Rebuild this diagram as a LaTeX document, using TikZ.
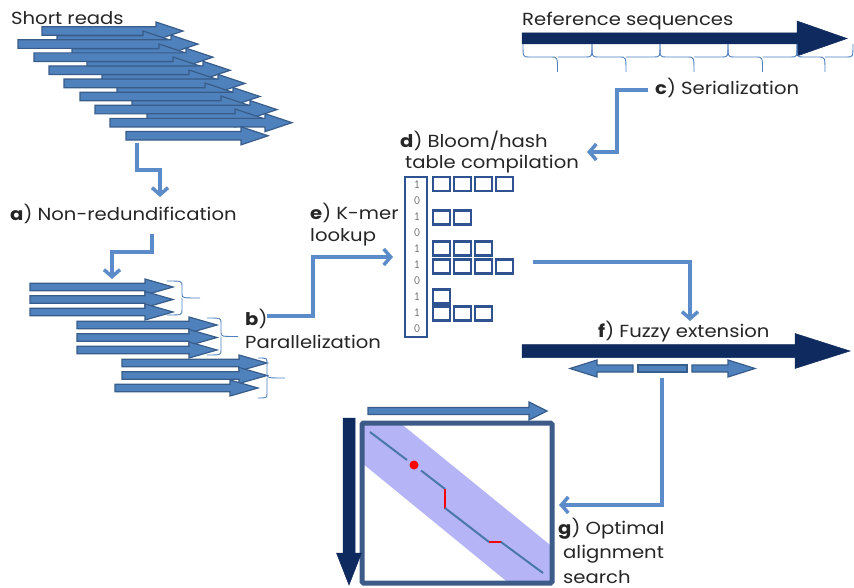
\documentclass[tikz,border=0pt]{standalone}
\usepackage{fontspec}
\setmainfont[FakeStretch=1.12]{Poppins}
\usetikzlibrary{arrows.meta}
\definecolor{mblue}{HTML}{4F81BD}
\definecolor{oblue}{HTML}{385D8A}
\definecolor{navy}{HTML}{0E2A5E}
\definecolor{conn}{HTML}{5B8BC8}
\definecolor{boxc}{HTML}{2F5391}
\definecolor{bandc}{HTML}{B4B4F6}
\definecolor{sqc}{HTML}{3D5B88}
\definecolor{pathc}{HTML}{4A78AD}
\definecolor{bitc}{HTML}{666666}
% horizontal block arrow: [style]{x1}{xtip}{y}{shaft half}{head half}{head length}
\newcommand\harrow[7][]{\filldraw[#1] ({#2},{#4-#5}) -- ({#3-(#7)},{#4-#5}) -- ({#3-(#7)},{#4-#6}) -- ({#3},{#4}) -- ({#3-(#7)},{#4+#6}) -- ({#3-(#7)},{#4+#5}) -- ({#2},{#4+#5}) -- cycle;}
% vertical block arrow: [style]{x}{y1}{ytip}{shaft half}{head half}{head length}
\newcommand\varrow[7][]{\filldraw[#1] ({#2-#5},{#3}) -- ({#2-#5},{#4-(#7)}) -- ({#2-#6},{#4-(#7)}) -- ({#2},{#4}) -- ({#2+#6},{#4-(#7)}) -- ({#2+#5},{#4-(#7)}) -- ({#2+#5},{#3}) -- cycle;}
% brace pointing down: {xa}{xb}{y}{body offset}{tip offset}
\newcommand\hbrace[5]{\draw[bracec] ({#1},{#3}) .. controls ({#1},{#3+#4}) .. ({#1+6},{#3+#4}) -- ({(#1+#2)/2-6},{#3+#4}) .. controls ({(#1+#2)/2},{#3+#4}) .. ({(#1+#2)/2},{#3+#5})
  ({(#1+#2)/2},{#3+#4+0.01}) .. controls ({(#1+#2)/2},{#3+#4}) .. ({(#1+#2)/2+6},{#3+#4}) -- ({#2-6},{#3+#4}) .. controls ({#2},{#3+#4}) .. ({#2},{#3});}
% brace pointing right: {x}{ya}{yb}{body offset}{tip offset}
\newcommand\vbrace[5]{\draw[bracec] ({#1},{#2}) .. controls ({#1+#4},{#2}) .. ({#1+#4},{#2+5}) -- ({#1+#4},{(#2+#3)/2-4}) .. controls ({#1+#4},{(#2+#3)/2}) .. ({#1+#5},{(#2+#3)/2})
  ({#1+#4+0.01},{(#2+#3)/2}) .. controls ({#1+#4},{(#2+#3)/2}) .. ({#1+#4},{(#2+#3)/2+4}) -- ({#1+#4},{#3-5}) .. controls ({#1+#4},{#3}) .. ({#1},{#3});}
\tikzset{
  readarrow/.style={fill=mblue, draw=oblue, line width=1.2pt, line join=miter},
  navyarrow/.style={fill=navy, draw=navy, line width=0.5pt},
  lbl/.style={font=\fontsize{17.5}{22}\selectfont, inner sep=0pt, anchor=base west, align=left, text=black!85},
  conn/.style={draw=conn, line width=3.5pt, line join=miter, -{Straight Barb[length=7pt,width=16pt]}},
  bracec/.style={draw=mblue, line width=0.9pt},
  bitbox/.style={draw=boxc, line width=2.2pt},
  bit/.style={font=\ttfamily\fontsize{12.5}{12.5}\selectfont, text=bitc, inner sep=0pt},
}
\begin{document}
\begin{tikzpicture}[x=1pt, y=-1pt]
\useasboundingbox (0,0) rectangle (854,588);
\fill[white] (0,0) rectangle (854,588);

% ---- short reads ----
\node[lbl] (shortreads) at (11,25) {Short reads};
\harrow[readarrow]{42}{183}{31}{4.3}{9}{27}
\harrow[readarrow]{57}{170}{40}{4.3}{9}{27}
\harrow[readarrow]{18}{198}{44.1}{4.3}{9}{27}
\harrow[readarrow]{72}{186}{53}{4.3}{9}{27}
\harrow[readarrow]{34}{213}{57.2}{4.3}{9}{27}
\harrow[readarrow]{87}{200}{66}{4.3}{9}{27}
\harrow[readarrow]{49}{230}{70.3}{4.3}{9}{27}
\harrow[readarrow]{102}{216}{79}{4.3}{9}{27}
\harrow[readarrow]{64}{245}{83.4}{4.3}{9}{27}
\harrow[readarrow]{117}{232}{92}{4.3}{9}{27}
\harrow[readarrow]{80}{260}{96.5}{4.3}{9}{27}
\harrow[readarrow]{132}{248}{105}{4.3}{9}{27}
\harrow[readarrow]{95}{277}{109.6}{4.3}{9}{27}
\harrow[readarrow]{147}{262}{118}{4.3}{9}{27}
\harrow[readarrow]{110}{292}{122.7}{4.3}{9}{27}
\harrow[readarrow]{126}{268}{135.8}{4.3}{9}{27}

\coordinate (c1a) at (137,143);
\coordinate (c1b) at (160,197);
\draw[conn] (c1a) -- (137,170) -- (160,170) -- (c1b);

% ---- a) ----
\node[lbl] (nonred) at (10,221) {\textbf{a}) Non-redundification};
\coordinate (c2a) at (152,234);
\coordinate (c2b) at (112,279);
\draw[conn] (c2a) -- (152,252) -- (112,252) -- (c2b);

% ---- parallel groups ----
\harrow[readarrow]{30}{173}{287}{3.7}{8}{28}
\harrow[readarrow]{30}{173}{299.5}{3.7}{8}{28}
\harrow[readarrow]{30}{173}{312}{3.7}{8}{28}
\harrow[readarrow]{77}{217}{325}{3.7}{8}{28}
\harrow[readarrow]{77}{217}{337.5}{3.7}{8}{28}
\harrow[readarrow]{77}{217}{350}{3.7}{8}{28}
\harrow[readarrow]{122}{267}{363}{3.7}{8}{28}
\harrow[readarrow]{122}{267}{375.5}{3.7}{8}{28}
\harrow[readarrow]{115}{258}{388}{3.7}{8}{28}
\vbrace{167}{281}{315}{15}{33}
\vbrace{207}{318}{355}{14}{31}
\vbrace{258}{358}{398}{9}{27}

\node[lbl, font=\fontsize{17.5}{23}\selectfont] (par) at (245,348) {\textbf{b})\\Parallelization};
\coordinate (c3a) at (267,316);
\coordinate (c3b) at (393,257);
\draw[conn] (c3a) -- (313,316) -- (313,257) -- (c3b);
\node[lbl, font=\fontsize{17.5}{21}\selectfont] (kmer) at (310,241) {\textbf{e}) K-mer\\lookup};

% ---- reference ----
\node[lbl] (refseq) at (522,26) {Reference sequences};
\harrow[navyarrow]{522}{847}{38.5}{5.5}{17.5}{50}
\foreach \xa/\xb in {523/592, 592/660, 660/728, 728/797, 797/853}{
  \hbrace{\xa}{\xb}{44}{13}{28}
}
\node[lbl] (serial) at (655,95) {\textbf{c}) Serialization};
\coordinate (c4a) at (648,90);
\coordinate (c4b) at (587,152);
\draw[conn] (c4a) -- (617,90) -- (617,152) -- (c4b);

% ---- bloom table ----
\node[lbl, font=\fontsize{17.5}{21.5}\selectfont] (bloom) at (400,169) {\textbf{d}) Bloom/hash\\\hspace{5pt}table compilation};
\draw[bitbox] (405,177) rectangle (427,337);
\foreach \b [count=\i] in {1,0,1,0,1,1,0,1,1,0}{
  \node[bit] (bit\i) at (417,{168.5+16.05*\i}) {\b};
}
\foreach \row/\n in {184/4, 217.5/2, 248.5/3, 266.5/4, 296.5/1, 313.5/3}{
  \foreach \k in {1,...,\n}{
    \draw[bitbox] ({433+21*(\k-1)},{\row-7}) rectangle ++(17,14);
  }
}

\coordinate (c5a) at (533,262);
\coordinate (c5b) at (690,321);
\draw[conn] (c5a) -- (690,262) -- (c5b);

% ---- fuzzy extension ----
\node[lbl] (fuzzy) at (598,337) {\textbf{f}) Fuzzy extension};
\harrow[navyarrow]{522}{850}{351}{6.5}{17.5}{55}
\harrow[readarrow]{633}{570}{368.5}{3.5}{8.5}{-27}
\filldraw[readarrow] (638,365) rectangle (687,372);
\harrow[readarrow]{692}{755}{368.5}{3.5}{8.5}{27}

\coordinate (c6a) at (662,378);
\coordinate (c6b) at (559,505);
\draw[conn] (c6a) -- (662,505) -- (c6b);

% ---- dot plot ----
\begin{scope}
  \clip (362,423) rectangle (552,583);
  \fill[bandc] (362,392) -- (560,553) -- (560,625) -- (362,463) -- cycle;
\end{scope}
\draw[draw=sqc, line width=5pt, rounded corners=1.5pt] (362,423) rectangle (552,583);
\harrow[readarrow]{368}{547}{411}{3.5}{9}{18}
\varrow[navyarrow]{349}{418}{585}{6}{12.5}{32}
\draw[pathc, line width=2pt] (370,432) -- (407,460);
\draw[pathc, line width=2pt] (421,470.5) -- (445,489);
\draw[red, line width=2pt] (445,488.5) -- (445,508.5);
\draw[pathc, line width=2pt] (445,508) -- (489,542);
\draw[red, line width=2pt] (488.5,542) -- (501.5,542);
\draw[pathc, line width=2pt] (501,542) -- (543,573);
\fill[red] (414,465) circle (4.5);
\node[lbl, font=\fontsize{17.5}{24.5}\selectfont] (optimal) at (558,583) {\textbf{g}) Optimal\\\hspace{5pt}alignment\\\hspace{5pt}search};
\end{tikzpicture}
\end{document}
